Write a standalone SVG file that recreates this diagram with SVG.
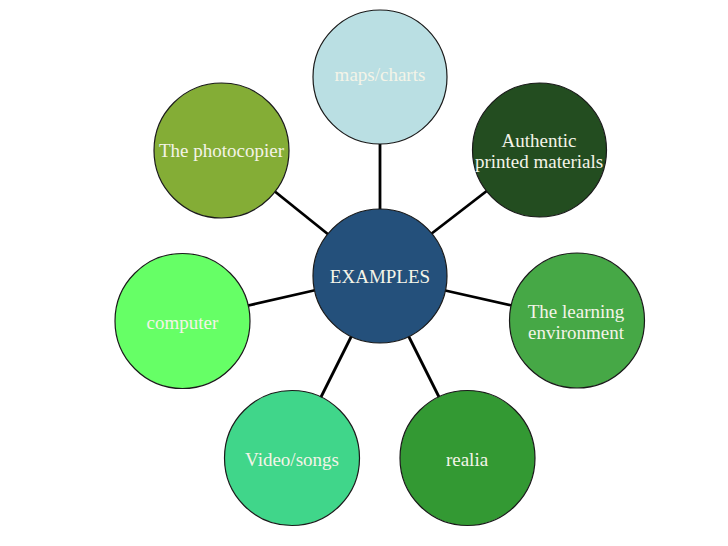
<svg xmlns="http://www.w3.org/2000/svg" width="728" height="546" viewBox="0 0 728 546">
<style>
.n{stroke:#1a1a1a;stroke-width:1.2}
.t{font-family:"Liberation Serif","Times New Roman",serif;font-size:19px;fill:#F4F4E8;text-anchor:middle}
.c line{stroke:#000;stroke-width:2.8;stroke-linecap:butt}
</style>
<rect width="728" height="546" fill="#fff"/>
<g class="c" id="connectors">
<line x1="380" y1="140" x2="380" y2="212"/>
<line x1="431" y1="234" x2="488" y2="190"/>
<line x1="273" y1="190" x2="329" y2="235"/>
<line x1="443" y1="290" x2="514" y2="306"/>
<line x1="246" y1="306" x2="316" y2="290"/>
<line x1="352" y1="335" x2="320" y2="399"/>
<line x1="408" y1="335" x2="440" y2="399"/>
</g>
<g id="center"><circle class="n" cx="380" cy="276" r="67" fill="#24507B"/><text class="t" x="380" y="283">EXAMPLES</text></g>
<g id="maps"><circle class="n" cx="380" cy="77" r="67" fill="#BADFE3"/><text class="t" x="380" y="81">maps/charts</text></g>
<g id="authentic"><circle class="n" cx="539.5" cy="150" r="67" fill="#234D20"/><text class="t" x="539" y="146.5">Authentic</text><text class="t" x="539" y="168">printed materials</text></g>
<g id="learning"><circle class="n" cx="577" cy="320.5" r="67.5" fill="#46A846"/><text class="t" x="576" y="317.5">The learning</text><text class="t" x="576" y="339">environment</text></g>
<g id="realia"><circle class="n" cx="467.5" cy="458" r="67.5" fill="#339933"/><text class="t" x="467" y="466">realia</text></g>
<g id="video"><circle class="n" cx="292" cy="458" r="67.5" fill="#40D68A"/><text class="t" x="292" y="466">Video/songs</text></g>
<g id="computer"><circle class="n" cx="182.5" cy="321" r="67.5" fill="#66FF66"/><text class="t" x="182.5" y="328.5">computer</text></g>
<g id="photocopier"><circle class="n" cx="221.5" cy="150.5" r="67.5" fill="#84AD36"/><text class="t" x="221.5" y="157">The photocopier</text></g>
</svg>
